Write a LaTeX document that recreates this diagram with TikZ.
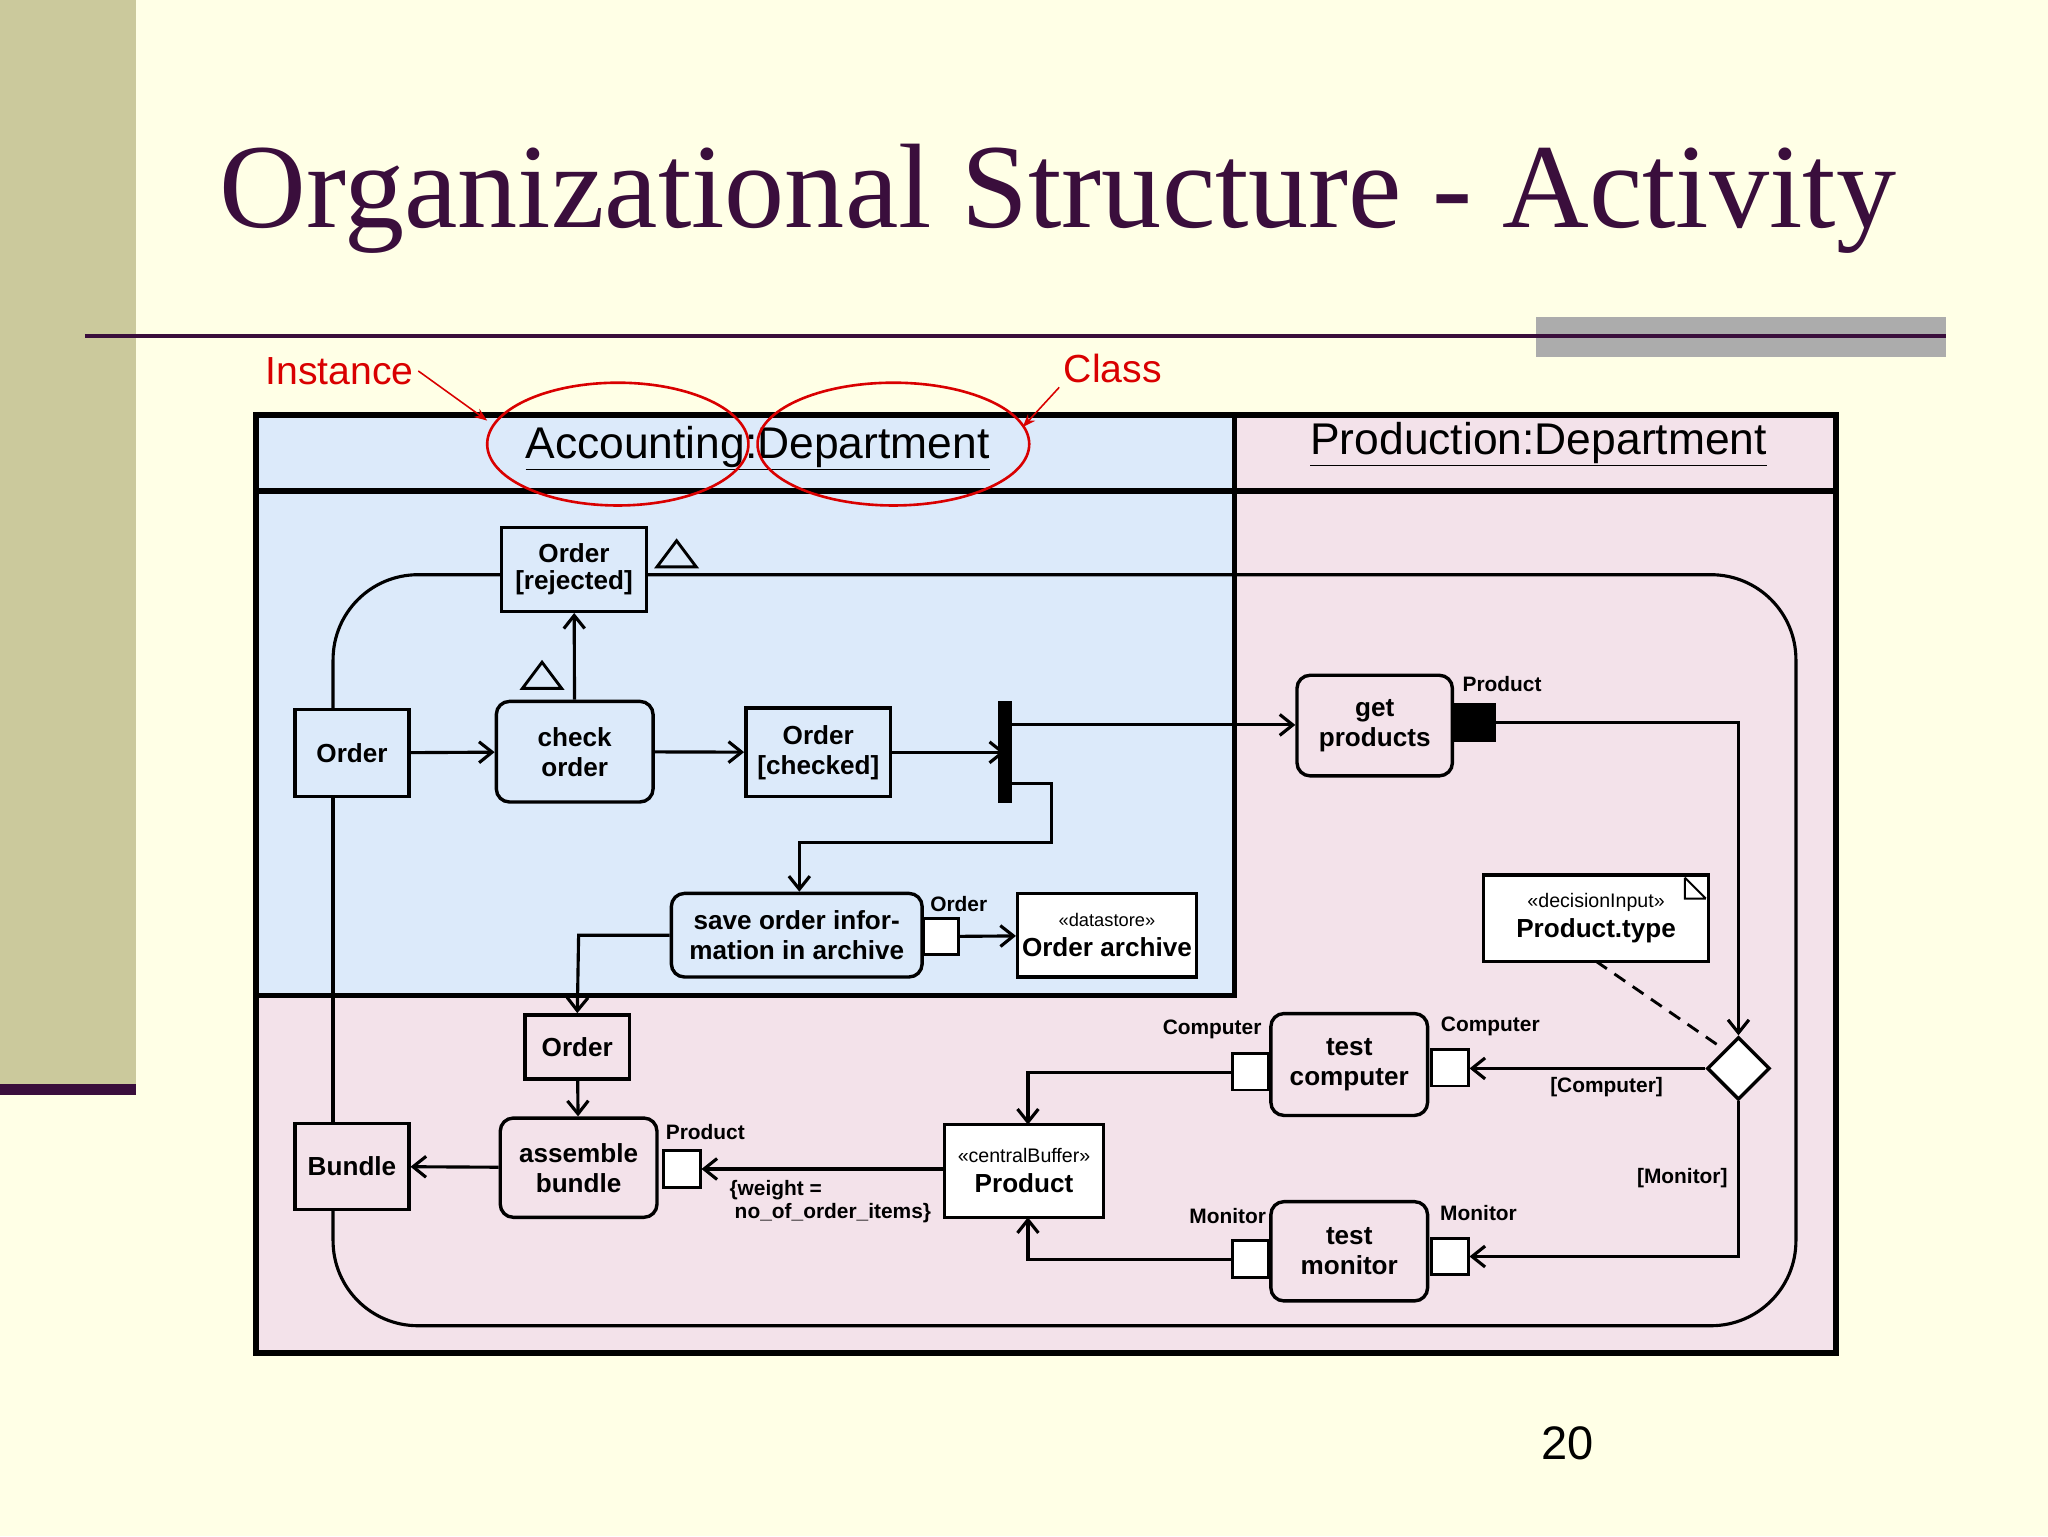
\documentclass[tikz,border=0pt]{standalone}
\usepackage{fontspec}
\setmainfont{Liberation Sans}
\newfontfamily\titlefont{Liberation Serif}
\usetikzlibrary{arrows.meta,shapes.geometric}
\definecolor{bg}{HTML}{FFFFE6}
\definecolor{olive}{HTML}{CBC99C}
\definecolor{ttl}{HTML}{3A0E3C}
\definecolor{lblue}{HTML}{DCEAFA}
\definecolor{lpink}{HTML}{F3E2EA}
\begin{document}
\begin{tikzpicture}[x=1pt,y=-1pt,
  obj/.style={draw,line width=2.6pt,fill=none},
  act/.style={draw,line width=2.6pt,rounded corners=10pt},
  ln/.style={line width=2.4pt},
  arr/.style={line width=2.4pt,-{Straight Barb[length=10pt,width=16pt,line width=2.4pt]}},
  txt/.style={font=\fontsize{20}{23}\selectfont\bfseries,align=center},
  sm/.style={font=\fontsize{16}{18}\selectfont\bfseries}]
\useasboundingbox (0,0) rectangle (1568,1176);
\fill[bg] (0,0) rectangle (1568,1176);
\fill[olive] (0,0) rectangle (104,835);
\fill[ttl] (0,830) rectangle (104,838);
\node[font=\titlefont\fontsize{92}{100}\selectfont,text=ttl] (title) at (810,152) {Organizational Structure - Activity};
\fill[gray!65] (1176,243) rectangle (1490,273);
\draw[ttl,line width=3pt] (65,257) -- (1490,257);
% lanes
\fill[lblue] (196,318) rectangle (945,762);
\fill[lpink] (945,318) rectangle (1406,1036);
\fill[lpink] (196,762) rectangle (945,1036);
\draw[line width=4.5pt] (196,318) rectangle (1406,1036);
\draw[line width=4.5pt] (196,376) -- (1406,376);
\draw[line width=3.5pt] (945,318) -- (945,762) -- (196,762);
\node[font=\fontsize{34}{40}\selectfont] (acc) at (580,343) {\underline{Accounting:Department}};
\node[font=\fontsize{34}{40}\selectfont] (prod) at (1178,340) {\underline{Production:Department}};
% annotations
\node[font=\fontsize{30}{34}\selectfont,text=red!85!black] (inst) at (260,284) {Instance};
\node[font=\fontsize{30}{34}\selectfont,text=red!85!black] (cls) at (852,282) {Class};
\draw[red!85!black,line width=2pt] (473,340) ellipse (100 and 47);
\draw[red!85!black,line width=2pt] (684,340) ellipse (104 and 47);
\coordinate (e1) at (373,322); \coordinate (e2) at (783,327);
\draw[red!85!black,line width=1.2pt,-{Stealth[length=10pt]}] (inst.east) -- (e1);
\draw[red!85!black,line width=1.2pt,-{Stealth[length=10pt]}] (cls.south west) -- (e2);
% big loop
\draw[ln,rounded corners=65pt] (384,440) -- (255,440) -- (255,543);
\draw[ln,rounded corners=65pt] (495,440) -- (1375,440) -- (1375,1015) -- (255,1015) -- (255,926);
\draw[ln] (255,610) -- (255,860);
% nodes
\node[obj,fill=lblue,minimum width=111pt,minimum height=64pt,txt] (rej) at (439.5,436) {Order\\[-2pt][rejected]};
\node[obj,fill=lblue,minimum width=87pt,minimum height=67pt,txt] (ord) at (269.5,576.5) {Order};
\node[act,fill=lblue,minimum width=120pt,minimum height=77pt,txt] (chk) at (440,575.5) {check\\order};
\node[obj,fill=lblue,minimum width=111pt,minimum height=68pt,txt] (chd) at (626.5,576) {Order\\{}[checked]};
\fill (764,537) rectangle (775,615); \coordinate (fork) at (769.5,576);
\node[act,fill=lpink,minimum width=119pt,minimum height=77pt,txt] (get) at (1052.5,555.5) {get\\products};
\fill (1113,538) rectangle (1145,568); \coordinate (ppin) at (1129,553);
\node[sm] at (1150,524) {Product};
\node[act,fill=lblue,minimum width=192pt,minimum height=64pt,txt] (save) at (610,716) {save order infor-\\mation in archive};
\node[draw,line width=2.2pt,fill=white,minimum size=27pt] (spin) at (720.5,717) {};
\node[sm] at (734,692) {Order};
\node[obj,fill=white,minimum width=129pt,minimum height=64pt,font=\fontsize{20}{23}\selectfont,align=center] (arch) at (847.5,716) {{\fontsize{14}{16}\selectfont«datastore»}\\\textbf{Order archive}};
\node[obj,fill=white,minimum width=172pt,minimum height=66pt,font=\fontsize{20}{23}\selectfont,align=center] (dec) at (1222,703) {{\fontsize{15}{17}\selectfont«decisionInput»}\\\textbf{Product.type}};
\draw[line width=1.5pt] (1290,672) -- (1306,688) (1290,672) -- (1290,688) -- (1306,688);
\node[draw,diamond,line width=2.6pt,fill=white,minimum size=48pt,inner sep=0pt] (dia) at (1331,818) {};
\node[act,fill=lpink,minimum width=120pt,minimum height=78pt,txt] (tc) at (1033,815) {test\\computer};
\node[draw,line width=2.2pt,fill=white,minimum size=28pt] (tcl) at (957.5,820.5) {};
\node[draw,line width=2.2pt,fill=white,minimum size=28pt] (tcr) at (1110,817.5) {};
\node[act,fill=lpink,minimum width=120pt,minimum height=76pt,txt] (tm) at (1033,958) {test\\monitor};
\node[draw,line width=2.2pt,fill=white,minimum size=28pt] (tml) at (957.5,964) {};
\node[draw,line width=2.2pt,fill=white,minimum size=28pt] (tmr) at (1110,962) {};
\node[sm] at (928,788) {Computer};
\node[sm] at (1141,786) {Computer};
\node[sm] at (1230,832) {[Computer]};
\node[sm] at (1288,902) {[Monitor]};
\node[sm] at (940,931) {Monitor};
\node[sm] at (1132,929) {Monitor};
\node[obj,fill=lpink,minimum width=80pt,minimum height=49pt,txt] (ord2) at (442,801.5) {Order};
\node[act,fill=lpink,minimum width=120pt,minimum height=76pt,txt] (asm) at (443,894) {assemble\\bundle};
\node[draw,line width=2.2pt,fill=white,minimum size=28pt] (apin) at (522,895) {};
\node[sm] at (540,867) {Product};
\node[obj,fill=lpink,minimum width=87pt,minimum height=66pt,txt] (bun) at (269.5,893) {Bundle};
\node[obj,fill=white,minimum width=122pt,minimum height=71pt,font=\fontsize{20}{23}\selectfont,align=center] (cb) at (784,896.5) {{\fontsize{15}{17}\selectfont«centralBuffer»}\\\textbf{Product}};
\node[sm,align=left,anchor=north west] at (555,900) {\{weight =\\\hspace*{4pt}no\_of\_order\_items\}};
% triangles
\draw[line width=2.2pt] (503,434) -- (518,414) -- (533,434) -- cycle;
\draw[line width=2.2pt] (400,527) -- (415,507) -- (430,527) -- cycle;
% edges
\draw[arr] (ord) -- (chk);
\draw[arr] (chk) -- (chd);
\draw[arr] (chd) -- (fork);
\draw[arr] (chk) -- (rej);
\draw[arr] (775,555) -- (get.west |- 0,555);
\draw[arr] (775,600) -- (805,600) -- (805,645) -- (612,645) -- (save.north -| 612,0);
\draw[arr] (spin) -- (arch);
\draw[arr] (save.west) -- (443,716) -- (ord2.north);
\draw[arr] (ord2) -- (asm);
\draw[arr] (asm) -- (bun);
\draw[arr] (cb.west |- apin) -- (apin);
\draw[arr] (1145,553) -- (1331,553) -- (dia.north);
\draw[arr] (dia.west) -- (tcr.east |- dia);
\draw[arr] (dia.south) -- (1331,962) -- (tmr.east);
\draw[arr] (tcl.west |- 0,821) -- (787,821) -- (787,861);
\draw[arr] (tml.west) -- (787,964) -- (787,932);
\draw[line width=2.2pt,dash pattern=on 10pt off 7pt] (1222,736) -- (1315,800);
\node[font=\fontsize{36}{40}\selectfont] (pg) at (1200,1105) {20};
\end{tikzpicture}
\end{document}
